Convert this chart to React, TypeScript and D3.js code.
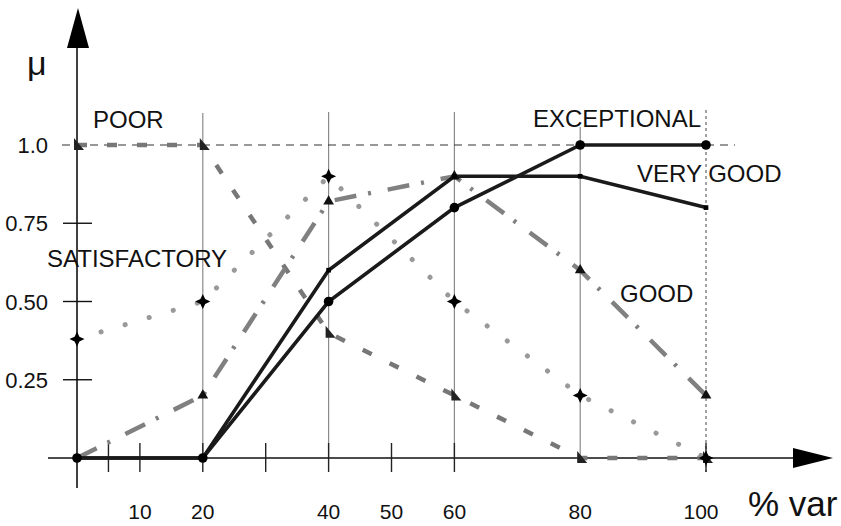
import React from "react";
import * as d3 from "d3";

const xValues = [0, 20, 40, 60, 80, 100];
const poor = [1, 1, 0.4, 0.2, 0, 0];
const satisfactory = [0.38, 0.5, 0.9, 0.5, 0.2, 0];
const good = [0, 0.2, 0.82, 0.9, 0.6, 0.2];
const veryGood = [0, 0, 0.6, 0.9, 0.9, 0.8];
const exceptional = [0, 0, 0.5, 0.8, 1, 1];

const xTickMarks = [5, 10, 20, 30, 40, 50, 60, 100];
const xTickLabels = [10, 20, 40, 50, 60, 80, 100];
const yTickMarks = [0.25, 0.5, 0.75];
const yTickLabels = ["0.25", "0.50", "0.75", "1.0"];
const yTickValues = [0.25, 0.5, 0.75, 1.0];
const gridX = [20, 40, 60, 80];

const W = 841, H = 526;
const FONT = "'Liberation Sans', Arial, sans-serif";

export default function App() {
  const x = d3.scaleLinear().domain([0, 100]).range([77, 706]);
  const y = d3.scaleLinear().domain([0, 1]).range([458, 145]);
  const line = d3.line<number>().x((_, i) => x(xValues[i])).y((d) => y(d));

  const tri = d3.symbol().type(d3.symbolTriangle).size(50)() as string;
  const rtri = "M-3,-7 L-3,5 L7,5 Z";
  const sq = d3.symbol().type(d3.symbolSquare).size(22)() as string;
  const star = "M0,-7.5 L2.4,-2.4 L7.5,0 L2.4,2.4 L0,7.5 L-2.4,2.4 L-7.5,0 L-2.4,-2.4 Z";

  const gridTop: Record<number, number> = { 20: 113, 40: 112, 60: 112, 80: 127 };

  return (
    <svg width={W} height={H} style={{ position: "fixed", left: 0, top: 0, background: "#fff" }} fontFamily={FONT}>
      <rect width={W} height={H} fill="#fff" />
      {/* vertical grid lines */}
      {gridX.map((v) => (
        <line key={v} x1={x(v)} x2={x(v)} y1={gridTop[v]} y2={y(0)} stroke="#8a8a8a" strokeWidth={1.2} />
      ))}
      <line x1={x(100)} x2={x(100)} y1={110} y2={472} stroke="#444" strokeWidth={1} strokeDasharray="3 3" />
      {/* 1.0 dashed line */}
      <line x1={62} x2={735} y1={y(1)} y2={y(1)} stroke="#333" strokeWidth={1.2} strokeDasharray="8 6" />

      {/* axes */}
      <line x1={x(0)} x2={x(0)} y1={46} y2={488} stroke="#111" strokeWidth={1.6} />
      <line x1={48} x2={796} y1={y(0)} y2={y(0)} stroke="#111" strokeWidth={1.6} />
      <path d="M78,8 L89,48 L67,48 Z" fill="#000" />
      <path d="M833,458 L793,448 L793,468 Z" fill="#000" />

      {yTickMarks.map((v) => (
        <line key={v} x1={63} x2={92} y1={y(v)} y2={y(v)} stroke="#111" strokeWidth={1.4} />
      ))}
      {xTickMarks.map((v) => (
        <line key={v} x1={x(v)} x2={x(v)} y1={443} y2={472} stroke="#222" strokeWidth={1.4} />
      ))}

      {/* tick labels */}
      {yTickValues.map((v, i) => (
        <text key={v} x={48} y={y(v) + 8} textAnchor="end" fontSize={22} fill="#111">{yTickLabels[i]}</text>
      ))}
      {xTickLabels.map((v) => (
        <text key={v} x={x(v) - (v === 100 ? 5 : 0)} y={519} textAnchor="middle" fontSize={21} fill="#111">{v}</text>
      ))}
      <text x={748} y={516} fontSize={35} fill="#111">% var</text>
      <text x={27} y={75} fontSize={34} fill="#111">μ</text>

      {/* series lines */}
      <path d={line(poor) as string} fill="none" stroke="#777" strokeWidth={4.5} strokeDasharray="10 20" />
      <path d={line(satisfactory) as string} fill="none" stroke="#999" strokeWidth={5} strokeLinecap="round" strokeDasharray="0.1 25" />
      <path d={line(good) as string} fill="none" stroke="#808080" strokeWidth={4.5} strokeDasharray="22 12 3 17" />
      <path d={line(veryGood) as string} fill="none" stroke="#1a1a1a" strokeWidth={3.6} />
      <path d={line(exceptional) as string} fill="none" stroke="#1a1a1a" strokeWidth={3.6} />

      {/* markers */}
      {poor.map((v, i) => (
        <path key={"p" + i} d={rtri} transform={`translate(${x(xValues[i])},${y(v)})`} fill="#222" />
      ))}
      {good.map((v, i) => (
        i > 0 ? <path key={"g" + i} d={tri} transform={`translate(${x(xValues[i])},${y(v)})`} fill="#111" /> : null
      ))}
      {satisfactory.map((v, i) => (
        <path key={"s" + i} d={star} transform={`translate(${x(xValues[i])},${y(v)})`} fill="#000" />
      ))}
      {veryGood.map((v, i) => (
        i > 1 ? <path key={"v" + i} d={sq} transform={`translate(${x(xValues[i])},${y(v)})`} fill="#000" /> : null
      ))}
      {exceptional.map((v, i) => (
        <circle key={"e" + i} cx={x(xValues[i])} cy={y(v)} r={4.8} fill="#000" />
      ))}

      {/* labels */}
      <text x={93} y={128} fontSize={24} fill="#111">POOR</text>
      <text x={533} y={127} fontSize={24} fill="#111">EXCEPTIONAL</text>
      <text x={637} y={182} fontSize={24} fill="#111">VERY GOOD</text>
      <text x={620} y={302} fontSize={24} fill="#111">GOOD</text>
      <text x={47} y={267} fontSize={24} fill="#111">SATISFACTORY</text>
    </svg>
  );
}
